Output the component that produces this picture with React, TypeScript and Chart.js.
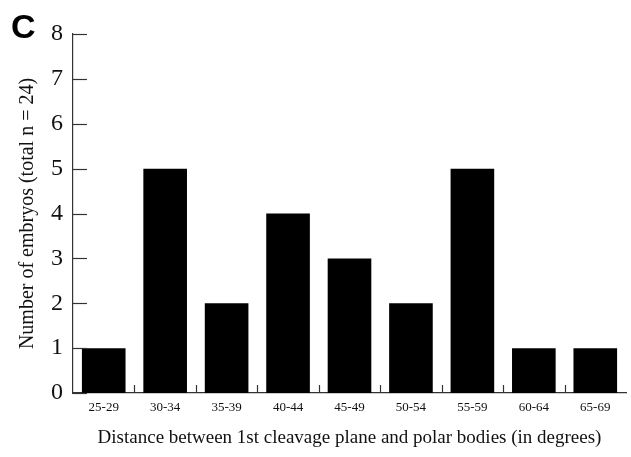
import React, { useEffect, useRef } from "react";
import { Chart, registerables } from "chart.js";

Chart.register(...registerables);

const categories = ["25-29", "30-34", "35-39", "40-44", "45-49", "50-54", "55-59", "60-64", "65-69"];
const embryoCounts = [1, 5, 2, 4, 3, 2, 5, 1, 1];
const yTicks = [0, 1, 2, 3, 4, 5, 6, 7, 8];
const panelLabel = "C";
const yTitle = "Number of embryos (total n = 24)";
const xTitle = "Distance between 1st cleavage plane and polar bodies (in degrees)";

const SERIF = "'Liberation Serif', 'DejaVu Serif', serif";

const decorPlugin = {
  id: "decor",
  afterDraw(chart: any) {
    const ctx = chart.ctx;
    const x = chart.scales.x;
    const y = chart.scales.y;
    const area = chart.chartArea;
    ctx.save();
    ctx.strokeStyle = "#333";
    ctx.lineWidth = 1.2;
    // y ticks pointing inward
    yTicks.forEach((v) => {
      const py = Math.round(y.getPixelForValue(v)) + 0.5;
      ctx.beginPath();
      ctx.moveTo(area.left, py);
      ctx.lineTo(area.left + 14, py);
      ctx.stroke();
    });
    // x ticks at inner category boundaries, pointing up
    for (let i = 0; i < categories.length - 1; i++) {
      const a = x.getPixelForValue(i);
      const b = x.getPixelForValue(i + 1);
      const px = Math.round((a + b) / 2) + 0.5;
      ctx.beginPath();
      ctx.moveTo(px, area.bottom);
      ctx.lineTo(px, area.bottom - 8);
      ctx.stroke();
    }
    // panel label
    ctx.fillStyle = "#000";
    ctx.font = "bold 34px 'Liberation Sans', Arial, sans-serif";
    ctx.textAlign = "left";
    ctx.textBaseline = "alphabetic";
    ctx.fillText(panelLabel, 11, 38);
    ctx.restore();
  },
};

export default function App() {
  const ref = useRef<HTMLCanvasElement | null>(null);
  useEffect(() => {
    document.body.style.margin = "0";
    const canvas = ref.current!;
    const chart = new Chart(canvas, {
      type: "bar",
      data: {
        labels: categories,
        datasets: [
          {
            data: embryoCounts,
            backgroundColor: "#000",
            borderWidth: 0,
            barPercentage: 0.71,
            categoryPercentage: 1,
          },
        ],
      },
      options: {
        animation: false,
        responsive: false,
        maintainAspectRatio: false,
        layout: { padding: { top: 34, right: 5, left: 0, bottom: 0 } },
        plugins: {
          legend: { display: false },
          tooltip: { enabled: false },
        },
        scales: {
          x: {
            offset: true,
            grid: { display: false, drawTicks: false },
            border: { display: true, color: "#333", width: 1.2 },
            ticks: {
              color: "#111",
              font: { family: SERIF, size: 13 },
              padding: 7,
              maxRotation: 0,
              autoSkip: false,
            },
            title: {
              display: true,
              text: xTitle,
              color: "#111",
              font: { family: SERIF, size: 19 },
              padding: { top: 4, bottom: 8 },
            },
            afterFit(s: any) {
              s.height = 64;
            },
          },
          y: {
            min: 0,
            max: 8,
            grid: { display: false, drawTicks: false },
            border: { display: true, color: "#333", width: 1.2 },
            ticks: {
              stepSize: 1,
              color: "#111",
              font: { family: SERIF, size: 24 },
              padding: 10,
            },
            title: {
              display: true,
              text: yTitle,
              color: "#111",
              font: { family: SERIF, size: 20 },
              padding: { top: 16, bottom: 0 },
            },
            afterFit(s: any) {
              s.width = 73;
            },
          },
        },
      },
      plugins: [decorPlugin],
    });
    return () => chart.destroy();
  }, []);
  return <canvas ref={ref} width={631} height={457} style={{ display: "block" }} />;
}
